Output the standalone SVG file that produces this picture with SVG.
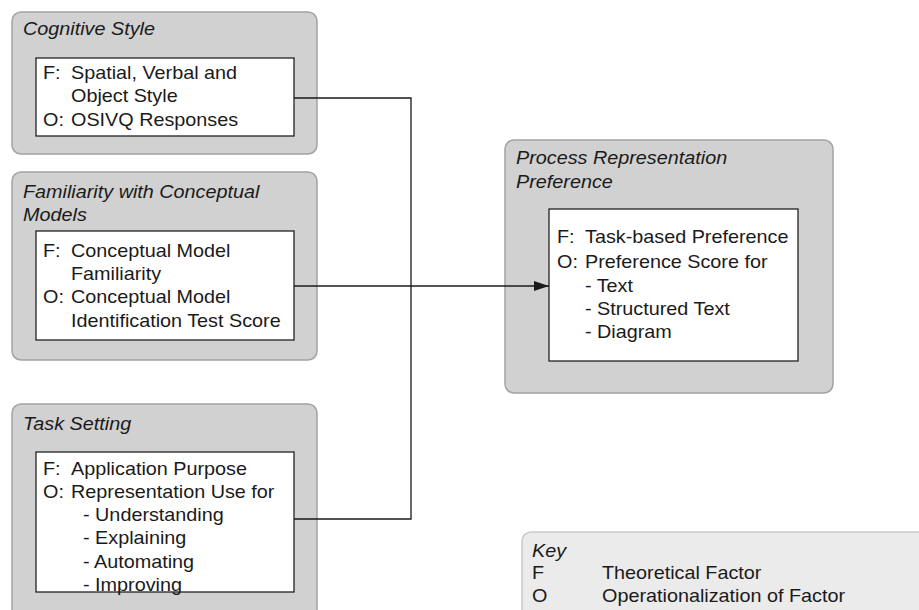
<svg xmlns="http://www.w3.org/2000/svg" width="919" height="610" viewBox="0 0 919 610">
<defs>
<style>
.outer{fill:#d1d1d1;stroke:#a3a3a3;stroke-width:1.5}
.inner{fill:#ffffff;stroke:#222222;stroke-width:1.3}
.key{fill:#ebebeb;stroke:#c9c9c9;stroke-width:1.5}
text{font-family:"Liberation Sans",Arial,Helvetica,sans-serif;font-size:18px;fill:#1a1a1a}
.t{font-style:italic}
.conn{fill:none;stroke:#1a1a1a;stroke-width:1.3}
</style>
<marker id="arr" viewBox="0 0 15 10" refX="15" refY="5" markerWidth="15" markerHeight="10" markerUnits="userSpaceOnUse" orient="auto">
<path d="M0,0 L15,5 L0,10 Z" fill="#1a1a1a"/>
</marker>
</defs>
<rect width="919" height="610" fill="#ffffff"/>

<g id="cognitive-style">
<rect class="outer" x="12" y="12" width="305" height="142" rx="9"/>
<rect class="inner" x="36" y="58" width="258" height="78"/>
<text class="t" transform="translate(23,35) scale(1.1,1)">Cognitive Style</text>
<text transform="translate(43,79) scale(1.1,1)">F:</text>
<text transform="translate(71,79) scale(1.1,1)">Spatial, Verbal and</text>
<text transform="translate(71,102) scale(1.1,1)">Object Style</text>
<text transform="translate(43,126) scale(1.1,1)">O:</text>
<text transform="translate(71,126) scale(1.1,1)">OSIVQ Responses</text>
</g>

<g id="familiarity">
<rect class="outer" x="12" y="172" width="305" height="188" rx="9"/>
<rect class="inner" x="36" y="231" width="258" height="109"/>
<text class="t" transform="translate(23,198) scale(1.1,1)">Familiarity with Conceptual</text>
<text class="t" transform="translate(23,221) scale(1.1,1)">Models</text>
<text transform="translate(43,257) scale(1.1,1)">F:</text>
<text transform="translate(71,257) scale(1.1,1)">Conceptual Model</text>
<text transform="translate(71,280) scale(1.1,1)">Familiarity</text>
<text transform="translate(43,303) scale(1.1,1)">O:</text>
<text transform="translate(71,303) scale(1.1,1)">Conceptual Model</text>
<text transform="translate(71,327) scale(1.1,1)">Identification Test Score</text>
</g>

<g id="task-setting">
<rect class="outer" x="12" y="404" width="305" height="222" rx="9"/>
<rect class="inner" x="36" y="452" width="258" height="140"/>
<text class="t" transform="translate(23,430) scale(1.1,1)">Task Setting</text>
<text transform="translate(43,475) scale(1.1,1)">F:</text>
<text transform="translate(71,475) scale(1.1,1)">Application Purpose</text>
<text transform="translate(43,498) scale(1.1,1)">O:</text>
<text transform="translate(71,498) scale(1.1,1)">Representation Use for</text>
<text transform="translate(83,521) scale(1.1,1)">- Understanding</text>
<text transform="translate(83,544) scale(1.1,1)">- Explaining</text>
<text transform="translate(83,568) scale(1.1,1)">- Automating</text>
<text transform="translate(83,591) scale(1.1,1)">- Improving</text>
</g>

<g id="process-representation-preference">
<rect class="outer" x="505" y="140" width="328" height="253" rx="9"/>
<rect class="inner" x="549" y="209" width="249" height="152"/>
<text class="t" transform="translate(516,164) scale(1.1,1)">Process Representation</text>
<text class="t" transform="translate(516,188) scale(1.1,1)">Preference</text>
<text transform="translate(557,243) scale(1.1,1)">F:</text>
<text transform="translate(585,243) scale(1.1,1)">Task-based Preference</text>
<text transform="translate(557,268) scale(1.1,1)">O:</text>
<text transform="translate(585,268) scale(1.1,1)">Preference Score for</text>
<text transform="translate(585,292) scale(1.1,1)">- Text</text>
<text transform="translate(585,315) scale(1.1,1)">- Structured Text</text>
<text transform="translate(585,338) scale(1.1,1)">- Diagram</text>
</g>

<g id="key">
<rect class="key" x="522" y="532" width="410" height="100" rx="9"/>
<text class="t" transform="translate(532,557) scale(1.1,1)">Key</text>
<text transform="translate(532,579) scale(1.1,1)">F</text>
<text transform="translate(602,579) scale(1.1,1)">Theoretical Factor</text>
<text transform="translate(532,602) scale(1.1,1)">O</text>
<text transform="translate(602,602) scale(1.1,1)">Operationalization of Factor</text>
</g>

<g id="connectors">
<polyline class="conn" points="294,98 411,98 411,519 294,519"/>
<line class="conn" x1="294" y1="286" x2="549" y2="286" marker-end="url(#arr)"/>
</g>
</svg>
